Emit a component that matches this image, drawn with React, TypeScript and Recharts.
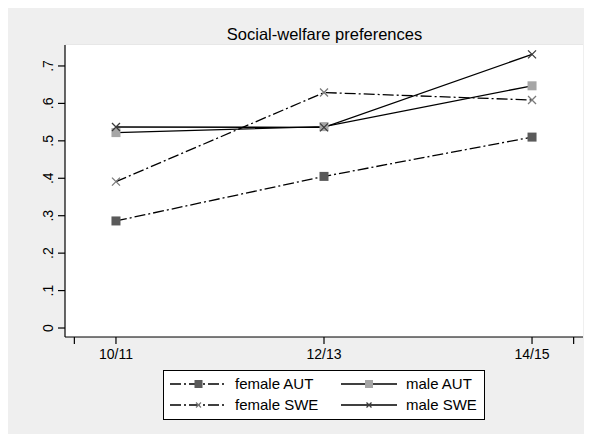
import React from 'react';
import { LineChart, Line, XAxis, YAxis, CartesianGrid, Legend } from 'recharts';

const categories = ['10/11', '12/13', '14/15'];
const femaleAUT = [0.286, 0.405, 0.51];
const maleAUT = [0.522, 0.538, 0.647];
const femaleSWE = [0.391, 0.629, 0.609];
const maleSWE = [0.537, 0.536, 0.731];
const yTicks = [0, 0.1, 0.2, 0.3, 0.4, 0.5, 0.6, 0.7];
const yTickLabels = ['0', '.1', '.2', '.3', '.4', '.5', '.6', '.7'];
const xTicks = [-0.2, 0, 1, 2, 2.2];
const seriesNames = ['female AUT', 'male AUT', 'female SWE', 'male SWE'];
const title = 'Social-welfare preferences';

const data = categories.map((c, i) => ({
  x: i,
  label: c,
  femaleAUT: femaleAUT[i],
  maleAUT: maleAUT[i],
  femaleSWE: femaleSWE[i],
  maleSWE: maleSWE[i],
}));

const FONT = '"Liberation Sans", Arial, Helvetica, sans-serif';
const DASHDOT = '11 3 2 3';

type MarkerKind = 'square' | 'cross';
const styles = [
  { key: 'femaleAUT', dash: DASHDOT, marker: 'square' as MarkerKind, color: '#5a5a5a' },
  { key: 'maleAUT', dash: undefined, marker: 'square' as MarkerKind, color: '#a6a6a6' },
  { key: 'femaleSWE', dash: DASHDOT, marker: 'cross' as MarkerKind, color: '#7a7a7a' },
  { key: 'maleSWE', dash: undefined, marker: 'cross' as MarkerKind, color: '#3a3a3a' },
];

function Marker({ cx, cy, kind, color, size }: { cx: number; cy: number; kind: MarkerKind; color: string; size: number }) {
  if (kind === 'square') {
    return <rect x={cx - size / 2} y={cy - size / 2} width={size} height={size} fill={color} />;
  }
  const h = size / 2;
  return (
    <path
      d={`M${cx - h},${cy - h}L${cx + h},${cy + h}M${cx - h},${cy + h}L${cx + h},${cy - h}`}
      stroke={color}
      strokeWidth={1.3}
      fill="none"
    />
  );
}

const makeDot = (kind: MarkerKind, color: string) => (props: any) => {
  const { cx, cy, index } = props;
  return (
    <g key={`m-${kind}-${color}-${index}`}>
      <Marker cx={cx} cy={cy} kind={kind} color={color} size={kind === 'square' ? 9 : 8} />
    </g>
  );
};

const YTick = (props: any) => {
  const { y, payload } = props;
  const idx = yTicks.indexOf(payload.value);
  const label = idx >= 0 ? yTickLabels[idx] : '';
  return (
    <text
      x={45}
      y={y}
      transform={`rotate(-90, 45, ${y})`}
      textAnchor="middle"
      fontSize={14}
      fontFamily={FONT}
      fill="#000"
    >
      {label}
    </text>
  );
};

const XTick = (props: any) => {
  const { x, payload } = props;
  const v = payload.value;
  const label = Number.isInteger(v) && v >= 0 && v < categories.length ? categories[v] : '';
  return (
    <text x={x} y={351} textAnchor="middle" fontSize={14} fontFamily={FONT} fill="#000">
      {label}
    </text>
  );
};

const LegendContent = () => {
  const rows = [
    [0, 1],
    [2, 3],
  ];
  const cols = [
    { lx1: 7, lx2: 64, tx: 72 },
    { lx1: 178, lx2: 234, tx: 243 },
  ];
  const rowY = [14, 35];
  return (
    <svg width={322} height={50} style={{ display: 'block' }}>
      <rect x={0.5} y={0.5} width={321} height={49} fill="#fff" stroke="#000" strokeWidth={1} />
      {rows.map((r, ri) =>
        r.map((si, ci) => {
          const s = styles[si];
          const c = cols[ci];
          const cy = rowY[ri];
          const mx = (c.lx1 + c.lx2) / 2;
          return (
            <g key={`lg-${si}`}>
              <line x1={c.lx1} x2={c.lx2} y1={cy} y2={cy} stroke="#000" strokeWidth={1.3} strokeDasharray={s.dash} />
              <Marker cx={mx} cy={cy} kind={s.marker} color={s.color} size={s.marker === 'square' ? 8 : 5} />
              <text x={c.tx} y={cy + 5} fontSize={15} fontFamily={FONT} fill="#000">
                {seriesNames[si]}
              </text>
            </g>
          );
        })
      )}
    </svg>
  );
};

export default function App() {
  return (
    <div style={{ width: 592, height: 434, background: '#efefef', position: 'relative' }}>
      <LineChart
        width={592}
        height={434}
        data={data}
        margin={{ top: 37, right: 17, left: 0, bottom: 75 }}
        style={{ fontFamily: FONT }}
      >
        <rect x={57} y={37} width={518} height={292} fill="#fff" />
        <CartesianGrid horizontal vertical={false} stroke="#e4e4e4" strokeWidth={1.5} fill="#fff" />
        <XAxis
          type="number"
          dataKey="x"
          domain={[-0.245, 2.245]}
          ticks={xTicks}
          interval={0}
          allowDataOverflow
          height={30}
          tickSize={7}
          axisLine={{ stroke: '#000', strokeWidth: 1.2 }}
          tickLine={{ stroke: '#000', strokeWidth: 1.2 }}
          tick={<XTick />}
        />
        <YAxis
          type="number"
          domain={[-0.024, 0.756]}
          ticks={yTicks}
          interval={0}
          allowDataOverflow
          width={57}
          tickSize={7}
          axisLine={{ stroke: '#000', strokeWidth: 1.2 }}
          tickLine={{ stroke: '#000', strokeWidth: 1.2 }}
          tick={<YTick />}
        />
        {styles.map((s, i) => (
          <Line
            key={s.key}
            type="linear"
            dataKey={s.key}
            name={seriesNames[i]}
            stroke="#000"
            strokeWidth={1.3}
            strokeDasharray={s.dash}
            dot={makeDot(s.marker, s.color)}
            activeDot={false}
            isAnimationActive={false}
          />
        ))}
        <text x={316.5} y={32} textAnchor="middle" fontSize={16.5} fontFamily={FONT} fill="#000">
          {title}
        </text>
        <Legend
          layout="horizontal"
          verticalAlign="middle"
          align="center"
          content={<LegendContent />}
          wrapperStyle={{ position: 'absolute', left: 155, top: 362, width: 322, height: 50 }}
        />
      </LineChart>
    </div>
  );
}
